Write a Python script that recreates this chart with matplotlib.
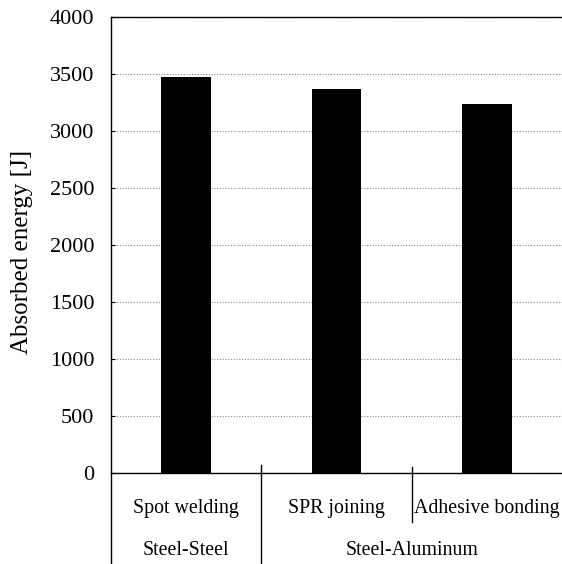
import matplotlib
matplotlib.use("Agg")
import matplotlib.pyplot as plt
from matplotlib.transforms import blended_transform_factory

methods = ["Spot welding", "SPR joining", "Adhesive bonding"]
energy = [3475, 3370, 3240]
groups = ["Steel-Steel", "Steel-Aluminum"]
group_centers = [0, 1.5]
yticks = [0, 500, 1000, 1500, 2000, 2500, 3000, 3500, 4000]

plt.rcParams['font.family'] = ['Liberation Serif', 'DejaVu Serif']

fig = plt.figure(figsize=(5.62, 5.64), dpi=100)
ax = fig.add_axes([111/562, 1 - 473/564, 1 - 111/562, 456/564])

x = list(range(len(methods)))
ax.bar(x, energy, width=0.33, color='black', zorder=3)
ax.set_xlim(-0.5, 2.5)
ax.set_ylim(0, 4000)
ax.set_yticks(yticks)
ax.set_xticks([])
ax.tick_params(axis='y', labelsize=16, length=3, direction='in', pad=12)
ax.yaxis.grid(True, linestyle=(0, (1, 1.5)), color='#888888', linewidth=0.8, zorder=0)
ax.spines['right'].set_visible(False)
for s in ['left', 'top', 'bottom']:
    ax.spines[s].set_linewidth(1.0)
ax.set_ylabel("Absorbed energy [J]", fontsize=18)
ax.yaxis.set_label_coords(-0.173, 0.485)

trans = blended_transform_factory(ax.transData, ax.transAxes)
for xi, m in zip(x, methods):
    ax.text(xi, -0.077, m, transform=trans, ha='center', va='center', fontsize=14.3)
for gc, g in zip(group_centers, groups):
    ax.text(gc, -0.169, g, transform=trans, ha='center', va='center', fontsize=14.3)

# separator lines
ax.plot([-0.5, -0.5], [0, -0.2], transform=trans, color='black', lw=1.0, clip_on=False)
ax.plot([0.5, 0.5], [0.0175, -0.2], transform=trans, color='black', lw=1.0, clip_on=False)
ax.plot([1.5, 1.5], [0.013, -0.107], transform=trans, color='black', lw=1.0, clip_on=False)

fig.savefig("out.png", dpi=100)
